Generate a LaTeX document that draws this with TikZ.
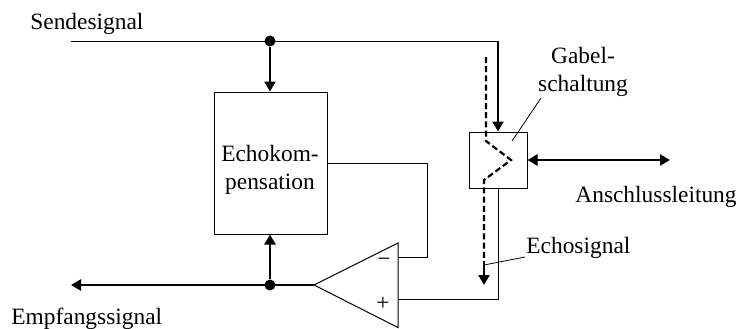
\documentclass[tikz,border=0pt]{standalone}
\usepackage{fontspec}
\setmainfont{Liberation Serif}
\usetikzlibrary{arrows.meta}
\tikzset{
  wire/.style={line width=0.5pt},
  thin wire/.style={line width=0.4pt},
  sig/.style={line width=1.45pt,-{Triangle[length=5pt,width=5.5pt]}},
  both sig/.style={line width=1.45pt,{Triangle[length=5pt,width=5.5pt]}-{Triangle[length=5pt,width=5.5pt]}},
  dash sig/.style={line width=1.1pt,dash pattern=on 3pt off 1.6pt},
  dot/.style={circle,fill=black,inner sep=0pt,minimum size=5.5pt},
  block/.style={draw,line width=0.5pt,inner sep=0pt},
  label/.style={inner sep=0pt,font=\fontsize{11.7}{14}\selectfont,align=center}
}
\begin{document}
\begin{tikzpicture}[x=0.5pt,y=-0.5pt]
\useasboundingbox (0,0) rectangle (738,328);
% blocks
\node[block,minimum width=56.5pt,minimum height=71pt] (echo) at (270.5,163) {};
\node[block,minimum width=29pt,minimum height=28pt] (gabel) at (498,160) {};
\node[label] (echotext) at (270,170) {Echokom-\\[0pt]pensation};
% amplifier
\coordinate (apex) at (314,285);
\coordinate (ampt) at (398,243);
\coordinate (ampb) at (398,327.5);
\draw[wire,line join=miter] (apex) -- (ampt) -- (ampb) -- cycle;
\node[label] (minus) at (384,262) {\textminus};
\node[label] (plus) at (383,304) {+};
% signal lines
\coordinate (sendstart) at (71,41);
\coordinate (sendcorner) at (498,41);
\node[dot] (senddot) at (270,41) {};
\node[dot] (recvdot) at (270,285) {};
\coordinate (recvend) at (71,285);
\coordinate (lineend) at (670,160);
\draw[wire] (sendstart) -- (sendcorner);
\draw[sig] (senddot) -- (senddot |- echo.north);
\draw[sig] (sendcorner) -- (gabel.north);
\draw[sig] (recvdot) -- (recvdot |- echo.south);
\draw[sig] (apex) -- (recvend);
\draw[both sig] (gabel.east) -- (lineend);
% feedback
\coordinate (minusin) at (398,257);
\coordinate (plusin) at (398,299);
\coordinate (fbout) at (echo.east |- 0,163);
\draw[wire] (fbout) -- (427,163) -- (427,257) -- (minusin);
\draw[wire] (gabel.south) -- (498,299) -- (plusin);
% echo path
\coordinate (dashstart) at (486,57);
\coordinate (dashmid) at (484,262);
\coordinate (dashend) at (484,285);
\draw[dash sig] (dashstart) -- (486,141) -- (511,160) -- (484,180) -- (dashmid);
\draw[sig,line width=1.1pt] (dashmid) -- (dashend);
% labels
\node[label,anchor=base west] (send) at (30,29) {Sendesignal};
\node[label,anchor=base west] (recv) at (11,324) {Empfangssignal};
\node[label] (gabeltext) at (583,72) {Gabel-\\[0pt]schaltung};
\node[label,anchor=base west] (anschluss) at (575,202) {Anschlussleitung};
\node[label,anchor=base west] (echosig) at (526,253) {Echosignal};
% leaders
\coordinate (gabelup) at (541,98);
\coordinate (gabeltip) at (512,141);
\coordinate (echotip) at (484,265);
\coordinate (echoup) at (525,257);
\draw[thin wire] (gabelup) -- (gabeltip);
\draw[thin wire] (echotip) -- (echoup);
\end{tikzpicture}
\end{document}
